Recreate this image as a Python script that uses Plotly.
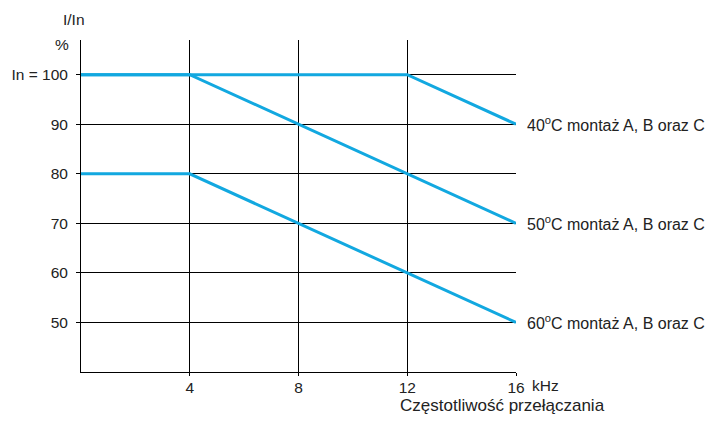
import plotly.graph_objects as go

# derating curves, current I/In [%] vs switching frequency [kHz]
freq_40 = [0, 12, 16]
curr_40 = [100, 100, 90]
freq_50 = [0, 4, 16]
curr_50 = [100, 100, 70]
freq_60 = [0, 4, 16]
curr_60 = [80, 80, 50]
labels = ["40<sup>o</sup>C montaż A, B oraz C",
          "50<sup>o</sup>C montaż A, B oraz C",
          "60<sup>o</sup>C montaż A, B oraz C"]

x_ticks = [4, 8, 12, 16]
x_ticktext = ["4", "8", "12", "16"]
y_ticks = [50, 60, 70, 80, 90, 100]
y_ticktext = ["50", "60", "70", "80", "90", "In = 100"]

blue = "#12a8e0"
ink = "#222222"
font = dict(family="Liberation Sans, Arial, sans-serif", size=15.5, color=ink)
font_lab = dict(font, size=16)
font_title = dict(font, size=17)

fig = go.Figure()
series = [(freq_40, curr_40), (freq_50, curr_50), (freq_60, curr_60)]
for (fx, cy), lab in zip(series, labels):
    fig.add_trace(go.Scatter(x=fx, y=cy, mode="lines", name=lab,
                             line=dict(color=blue, width=3),
                             showlegend=False, hoverinfo="skip"))
    fig.add_annotation(x=fx[-1], y=cy[-1], xref="x", yref="y", text=lab,
                       showarrow=False, xanchor="left", xshift=9, font=font_lab)

fig.add_annotation(x=16, y=40, xref="x", yref="y", text="kHz", showarrow=False,
                   xanchor="left", yanchor="top", xshift=14, yshift=-3, font=font)
fig.add_annotation(x=16, y=40, xref="x", yref="y", text="Częstotliwość przełączania",
                   showarrow=False, xanchor="center", yanchor="middle", xshift=-14,
                   yshift=-33, font=font_title)
fig.add_annotation(x=0, y=107, xref="x", yref="y", text="%", showarrow=False,
                   xanchor="right", yanchor="middle", xshift=-10, yshift=-4, font=font)
fig.add_annotation(x=0, y=107, xref="x", yref="y", text="I/In", showarrow=False,
                   xanchor="center", yanchor="middle", xshift=-7, yshift=21, font=font)

fig.update_xaxes(range=[0, 16], tickvals=x_ticks, ticktext=x_ticktext,
                 showgrid=True, gridcolor="black", gridwidth=1,
                 showline=True, linecolor="black", linewidth=1,
                 ticks="outside", ticklen=3, tickcolor="black",
                 ticklabelstandoff=-2,
                 zeroline=False, tickfont=font, automargin=False)
fig.update_yaxes(range=[40, 107], tickvals=y_ticks, ticktext=y_ticktext,
                 showgrid=True, gridcolor="black", gridwidth=1,
                 showline=True, linecolor="black", linewidth=1,
                 ticks="outside", ticklen=4, tickcolor="black",
                 ticklabelstandoff=5,
                 zeroline=False, tickfont=font, automargin=False)

# page body adds an 8px margin, so the figure is 8px smaller and shifted
fig.update_layout(width=709, height=437, plot_bgcolor="white", paper_bgcolor="white",
                  margin=dict(l=73, r=201, t=32, b=73), font=font)

fig.write_html("out.html")
